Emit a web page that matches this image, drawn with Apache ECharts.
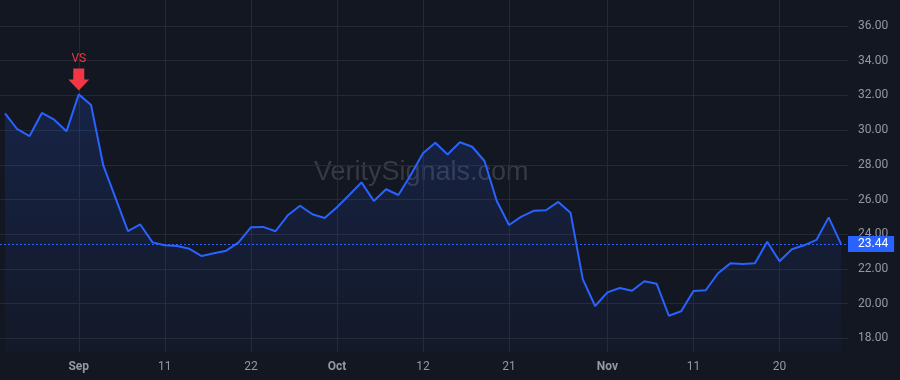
<!DOCTYPE html>
<html><head><meta charset="utf-8">
<script src="https://cdn.jsdelivr.net/npm/echarts@6/dist/echarts.min.js"></script>
<style>html,body{margin:0;padding:0;background:#131722}#c{width:900px;height:380px}</style>
</head><body><div id="c"></div>
<script>
const dates = [
  '2020-08-24','2020-08-25','2020-08-26','2020-08-27','2020-08-28','2020-08-31',
  '2020-09-01','2020-09-02','2020-09-03','2020-09-04','2020-09-08','2020-09-09','2020-09-10','2020-09-11',
  '2020-09-14','2020-09-15','2020-09-16','2020-09-17','2020-09-18','2020-09-21','2020-09-22','2020-09-23',
  '2020-09-24','2020-09-25','2020-09-28','2020-09-29','2020-09-30',
  '2020-10-01','2020-10-02','2020-10-05','2020-10-06','2020-10-07','2020-10-08','2020-10-09','2020-10-12',
  '2020-10-13','2020-10-14','2020-10-15','2020-10-16','2020-10-19','2020-10-20','2020-10-21','2020-10-22',
  '2020-10-23','2020-10-26','2020-10-27','2020-10-28','2020-10-29','2020-10-30',
  '2020-11-02','2020-11-03','2020-11-04','2020-11-05','2020-11-06','2020-11-09','2020-11-10','2020-11-11',
  '2020-11-12','2020-11-13','2020-11-16','2020-11-17','2020-11-18','2020-11-19','2020-11-20','2020-11-23',
  '2020-11-24','2020-11-25','2020-11-27','2020-11-30'
];
const values = [
  30.97, 30.05, 29.66, 30.99, 30.60, 29.93,
  32.06, 31.45, 27.95, 26.07, 24.18, 24.56, 23.53, 23.36,
  23.32, 23.16, 22.74, 22.90, 23.05, 23.53, 24.40, 24.42,
  24.17, 25.09, 25.64, 25.15, 24.93,
  25.55, 26.26, 26.99, 25.91, 26.59, 26.26, 27.41, 28.66,
  29.27, 28.59, 29.30, 29.04, 28.22, 25.91, 24.53, 25.01,
  25.35, 25.38, 25.86, 25.24, 21.40, 19.86,
  20.65, 20.90, 20.74, 21.29, 21.15, 19.30, 19.56, 20.73,
  20.77, 21.75, 22.32, 22.28, 22.32, 23.57, 22.44, 23.13,
  23.36, 23.67, 24.97, 23.44
];
const tickDates = ['2020-09-01','2020-09-11','2020-09-22','2020-10-01','2020-10-12','2020-10-21','2020-11-02','2020-11-11','2020-11-20'];
const tickTexts = ['Sep','11','22','Oct','12','21','Nov','11','20'];
const monthTexts = ['Sep','Oct','Nov'];
const yMin = 17.21, yMax = 37.5;
const markerDate = '2020-09-01';
const markerText = 'VS';
const watermark = 'VeritySignals.com';
const lastValue = values[values.length - 1];

const gridColor = '#252934';
const textColor = '#9598a1';
const blue = '#2962ff';
const red = '#f23645';
const font = 'Roboto, "Liberation Sans", Arial, sans-serif';

const chart = echarts.init(document.getElementById('c'), null, {renderer: 'canvas'});
chart.setOption({
  backgroundColor: '#131722',
  animation: false,
  textStyle: {fontFamily: font},
  graphic: [{
    type: 'text', left: 314, top: 159, z: 0, silent: true,
    style: {text: watermark, fill: '#363a45', font: '27px "Liberation Sans", Arial, sans-serif'}
  }],
  grid: [
    {left: 0, right: 52, top: 0, bottom: 28},
    {left: 5, right: 59, top: 0, bottom: 28}
  ],
  xAxis: [
    {type: 'value', gridIndex: 0, min: 0, max: 1, show: false},
    {
      type: 'category', gridIndex: 1, data: dates, boundaryGap: false,
      axisLine: {show: false}, axisTick: {show: false},
      axisLabel: {
        interval: (i, v) => tickDates.includes(v),
        formatter: v => {
          const t = tickTexts[tickDates.indexOf(v)];
          return monthTexts.includes(t) ? '{b|' + t + '}' : t;
        },
        color: textColor, fontSize: 12, margin: 9, fontFamily: font,
        rich: {b: {fontWeight: 'bold', color: textColor, fontSize: 12, fontFamily: font}}
      },
      splitLine: {show: true, interval: (i, v) => tickDates.includes(v), lineStyle: {color: gridColor, width: 1}}
    }
  ],
  yAxis: [
    {
      type: 'value', gridIndex: 0, position: 'right', min: yMin, max: yMax, splitNumber: 10,
      axisLine: {show: false}, axisTick: {show: false},
      axisLabel: {showMinLabel: false, showMaxLabel: false, formatter: v => v.toFixed(2), color: textColor, fontSize: 12, margin: 10, fontFamily: font},
      splitLine: {show: true, showMinLine: false, showMaxLine: false, lineStyle: {color: gridColor, width: 1}}
    },
    {type: 'value', gridIndex: 1, min: yMin, max: yMax, show: false, splitLine: {show: false}}
  ],
  series: [
    {
      type: 'line', xAxisIndex: 0, yAxisIndex: 0, data: [[0, lastValue]],
      symbol: 'none', lineStyle: {width: 0, opacity: 0}, silent: true,
      markLine: {
        silent: true, symbol: 'none', animation: false,
        data: [{yAxis: lastValue}],
        lineStyle: {color: blue, type: [2, 2], width: 1},
        label: {
          position: 'end', distance: 0, formatter: lastValue.toFixed(2),
          backgroundColor: blue, color: '#ffffff', fontSize: 12, fontFamily: font,
          padding: [2, 6, 2, 10], lineHeight: 12
        }
      }
    },
    {
      type: 'line', xAxisIndex: 1, yAxisIndex: 1, data: values,
      symbol: 'none', z: 3,
      lineStyle: {color: blue, width: 2},
      itemStyle: {color: blue},
      areaStyle: {
        color: new echarts.graphic.LinearGradient(0, 0, 0, 1, [
          {offset: 0, color: 'rgba(41,98,255,0.24)'},
          {offset: 1, color: 'rgba(41,98,255,0.04)'}
        ])
      },
      markPoint: {
        silent: true, animation: false,
        data: [{coord: [markerDate, values[dates.indexOf(markerDate)]]}],
        symbol: 'path://M5,0 L16,0 L16,11 L21,11 L10.5,22 L0,11 L5,11 Z',
        symbolSize: [21, 22], symbolOffset: [0, -15],
        itemStyle: {color: red},
        label: {show: true, position: 'top', distance: 3, formatter: markerText, color: red, fontSize: 12, fontFamily: font}
      }
    }
  ]
});
</script></body></html>
